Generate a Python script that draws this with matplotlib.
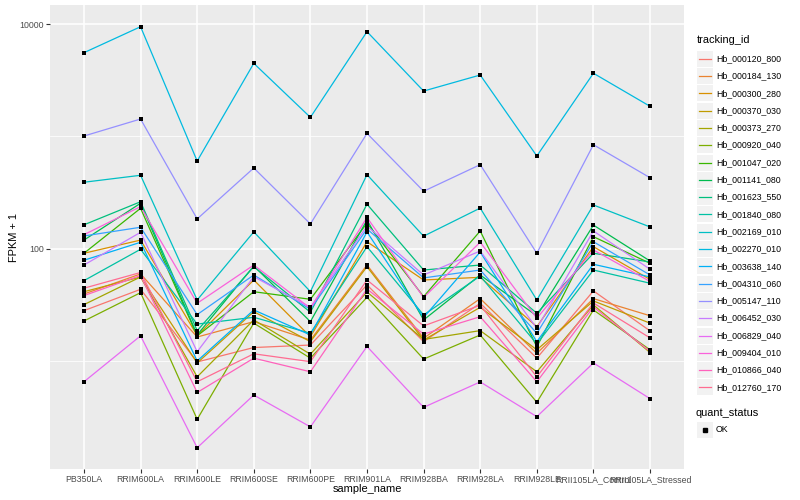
import matplotlib
matplotlib.use("Agg")
import matplotlib.pyplot as plt
from matplotlib.patches import Rectangle
from matplotlib.lines import Line2D
import numpy as np

plt.rcParams['font.family'] = ['Liberation Sans', 'DejaVu Sans']

samples = ["PB350LA", "RRIM600LA", "RRIM600LE", "RRIM600SE", "RRIM600PE", "RRIM901LA",
           "RRIM928BA", "RRIM928LA", "RRIM928LE", "RRII105LA_Control", "RRII105LA_Stressed"]

tracking_ids = ["Hb_000120_800", "Hb_000184_130", "Hb_000300_280", "Hb_000370_030",
                "Hb_000373_270", "Hb_000920_040", "Hb_001047_020", "Hb_001141_080",
                "Hb_001623_550", "Hb_001840_080", "Hb_002169_010", "Hb_002270_010",
                "Hb_003638_140", "Hb_004310_060", "Hb_005147_110", "Hb_006452_030",
                "Hb_006829_040", "Hb_009404_010", "Hb_010866_040", "Hb_012760_170"]

colors = ["#F8766D", "#EA8331", "#D89000", "#C09B00", "#A3A500", "#7CAE00", "#39B600",
          "#00BB4E", "#00BF7D", "#00C1A3", "#00BFC4", "#00BAE0", "#00B0F6", "#35A2FF",
          "#9590FF", "#C77CFF", "#E76BF3", "#FA62DB", "#FF62BC", "#FF6C91"]

# FPKM + 1, one list per tracking id, in sample order
fpkm = {
    "Hb_000120_800": [28.3, 43.8, 9.9, 13.3, 14.0, 47.9, 15.0, 32.9, 10.7, 42.4, 18.7],
    "Hb_000184_130": [39.8, 60.0, 16.5, 22.6, 15.5, 72.0, 16.1, 36.2, 11.8, 36.2, 25.5],
    "Hb_000300_280": [91.6, 120, 17.0, 53.0, 16.6, 116, 53.0, 56.0, 20.4, 104.8, 53.6],
    "Hb_000370_030": [41.7, 56.4, 9.7, 27.7, 15.0, 69.6, 15.5, 30.3, 12.7, 34.5, 21.9],
    "Hb_000373_270": [32.0, 56.4, 7.3, 23.4, 11.6, 41.5, 15.7, 18.8, 8.1, 31.8, 12.0],
    "Hb_000920_040": [22.9, 40.9, 3.06, 21.9, 10.7, 37.2, 10.5, 17.2, 4.34, 28.7, 12.7],
    "Hb_001047_020": [91.6, 230, 16.9, 41.7, 35.7, 170, 37.7, 144.5, 13.5, 128.6, 74.6],
    "Hb_001141_080": [120, 255, 17.2, 70.6, 22.6, 181, 23.4, 58.7, 25.4, 163, 78.2],
    "Hb_001623_550": [164, 263, 18.8, 69.6, 27.4, 250, 65.0, 72.0, 26.8, 91.6, 76.6],
    "Hb_001840_080": [52.3, 99.4, 21.5, 24.7, 17.8, 104.8, 25.9, 57.5, 14.3, 65.0, 49.6],
    "Hb_002169_010": [392, 452, 35.2, 142, 41.8, 458, 130, 231, 35.2, 246, 157],
    "Hb_002270_010": [5560, 9460, 605, 4470, 1480, 8550, 2535, 3520, 671, 3650, 1855],
    "Hb_003638_140": [79.4, 114.7, 10.1, 28.7, 17.2, 141.6, 24.6, 94.0, 15.0, 73.1, 56.4],
    "Hb_004310_060": [130.5, 156, 26.1, 58.7, 29.1, 150.6, 55.3, 65.0, 17.8, 116, 58.7],
    "Hb_005147_110": [1010, 1430, 185, 525, 167, 1066, 326, 562, 91.6, 845, 430],
    "Hb_006452_030": [72.0, 140.7, 12.2, 56.7, 30.3, 160, 58.7, 96.0, 19.7, 144.5, 66.0],
    "Hb_006829_040": [6.6, 16.9, 1.71, 5.03, 2.62, 13.6, 3.91, 6.58, 3.23, 9.7, 4.67],
    "Hb_009404_010": [134, 238, 32.9, 72.0, 29.7, 190.5, 37.0, 115, 24.2, 98.0, 51.4],
    "Hb_010866_040": [38.5, 58.1, 5.3, 10.7, 8.1, 44.1, 17.5, 25.0, 6.6, 30.5, 12.3],
    "Hb_012760_170": [44.8, 61.8, 6.6, 11.7, 9.96, 53.0, 20.7, 31.6, 7.3, 33.1, 16.2],
}

W, H = 800, 500
fig = plt.figure(figsize=(8, 5), dpi=100)
ax = fig.add_axes([50 / W, 1 - 469 / H, (684 - 50) / W, (469 - 5) / H])
ax.set_facecolor("#EBEBEB")

x = np.arange(1, len(samples) + 1)
for tid, col in zip(tracking_ids, colors):
    ax.plot(x, fpkm[tid], color=col, lw=0.9, zorder=2)
for tid in tracking_ids:
    ax.scatter(x, fpkm[tid], marker="s", s=8, color="black", zorder=3, linewidths=0)

ax.set_yscale("log")
ax.set_ylim(10 ** 0.044, 10 ** 4.169)
ax.set_xlim(0.4, len(samples) + 0.6)
ax.set_yticks([100, 10000])
ax.set_yticklabels(["100", "10000"])
ax.set_yticks([10, 1000], minor=True)
ax.yaxis.set_minor_formatter(plt.NullFormatter())
ax.set_xticks(x)
ax.set_xticklabels(samples)

ax.grid(which="major", color="white", lw=1.1)
ax.grid(which="minor", axis="y", color="white", lw=0.55)
ax.set_axisbelow(True)
for s in ax.spines.values():
    s.set_visible(False)
ax.tick_params(which="major", length=2.8, width=0.8, color="#333333",
               labelsize=6.3, labelcolor="#4D4D4D", pad=1.5)
ax.tick_params(which="minor", length=0)

ax.set_xlabel("sample_name", fontsize=7.9, va="center")
ax.set_ylabel("FPKM + 1", fontsize=7.9, va="center")
ax.xaxis.set_label_coords(0.5, (469 - 489) / 464)
ax.yaxis.set_label_coords((14 - 50) / 634, 0.5)

# legends drawn in figure pixel coordinates
def fx(px):
    return px / W

def fy(py):
    return 1 - py / H

fig.text(fx(697), fy(40), "tracking_id", fontsize=7.9, va="center", ha="left")
for i, (tid, col) in enumerate(zip(tracking_ids, colors)):
    cy = 58.7 + i * 17.3
    fig.patches.append(Rectangle((fx(697), fy(cy + 8)), 16 / W, 16 / H,
                                 transform=fig.transFigure, facecolor="#F2F2F2",
                                 edgecolor="none"))
    fig.lines.append(Line2D([fx(699), fx(711)], [fy(cy), fy(cy)],
                            transform=fig.transFigure, color=col, lw=0.9))
    fig.text(fx(716.5), fy(cy), tid, fontsize=6.3, va="center", ha="left")

fig.text(fx(696), fy(413), "quant_status", fontsize=7.9, va="center", ha="left")
fig.patches.append(Rectangle((fx(697), fy(429.5 + 8)), 16 / W, 16 / H,
                             transform=fig.transFigure, facecolor="#F2F2F2",
                             edgecolor="none"))
fig.lines.append(Line2D([fx(705)], [fy(429.5)], transform=fig.transFigure,
                        marker="s", markersize=2.8, color="black", lw=0))
fig.text(fx(716), fy(429.5), "OK", fontsize=6.3, va="center", ha="left")

fig.savefig("out.png", dpi=100)
